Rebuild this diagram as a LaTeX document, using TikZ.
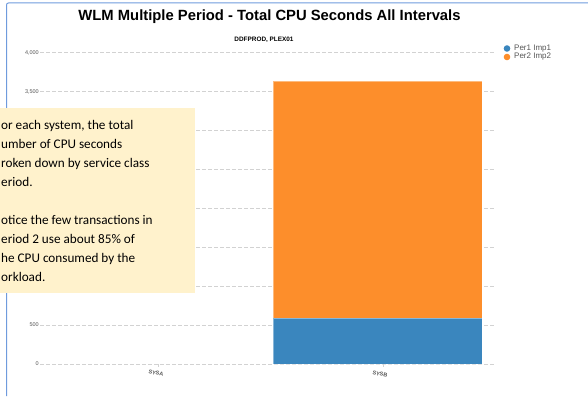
\documentclass[tikz,border=0pt]{standalone}
\usepackage{fontspec}
\setmainfont{Liberation Sans}
\newfontfamily\notefont{Carlito}
\usetikzlibrary{positioning}
\definecolor{perblue}{HTML}{3A86BE}
\definecolor{perorange}{HTML}{FD8E2B}
\definecolor{notefill}{HTML}{FFF2CC}
\definecolor{framecol}{HTML}{6F9BDD}
\definecolor{gridcol}{HTML}{D2D2D2}
\definecolor{labcol}{HTML}{555555}

\begin{document}
\begin{tikzpicture}[x=1pt,y=-1pt,
    gridline/.style={gridcol,dash pattern=on 4pt off 2pt,line width=0.8pt},
    ticklab/.style={anchor=east,inner sep=1pt,text=labcol,font=\fontsize{5.5}{6}\selectfont},
    syslab/.style={rotate=-12,inner sep=0pt,text=labcol,font=\bfseries\fontsize{5.5}{6}\selectfont},
    legendlab/.style={anchor=west,inner sep=0pt,text=labcol,font=\fontsize{8}{8}\selectfont}]
  \useasboundingbox (0,0) rectangle (588,396);
  \clip (0,0) rectangle (588,396);
  \draw[framecol,line width=1pt,rounded corners=2pt] (6.5,396) -- (6.5,3) -- (590,3);

  \node[font=\bfseries\fontsize{14.8}{16}\selectfont] (title) at (269.5,17) {WLM Multiple Period - Total CPU Seconds All Intervals};
  \node[font=\bfseries\fontsize{6.4}{8}\selectfont] (subtitle) at (264,40) {DDFPROD, PLEX01};

  \foreach \v in {0,1,...,8}
    \draw[gridline] (40,{364-\v*39}) -- (495,{364-\v*39});
  \node[ticklab] (l4000) at (40,53) {4,000};
  \node[ticklab] (l3500) at (40,92) {3,500};
  \node[ticklab] (l500) at (40,325) {500};
  \node[ticklab] (l0) at (40,364) {0};

  \fill[perorange] (273,81) rectangle (482,318);
  \fill[perblue] (273,318) rectangle (482,364);
  \draw[white,opacity=0.4,line width=0.5pt] (273,81) rectangle (482,364) (273,318) -- (482,318);

  \draw[gridcol,line width=0.6pt] (158,364) -- (158,367) (383,364) -- (383,367);
  \node[syslab] (sysa) at (156,373) {SYSA};
  \node[syslab] (sysb) at (380,374) {SYSB};

  \fill[perblue] (507,48.5) circle (3.3);
  \fill[perorange] (507,57) circle (3.3);
  \node[legendlab] (per1) at (514,48.5) {Per1 Imp1};
  \node[legendlab] (per2) at (514,57) {Per2 Imp2};

  \fill[notefill] (0,108) rectangle (195,293);
  \node[anchor=north west,inner sep=0pt,align=left,font=\notefont\fontsize{13.2}{19}\selectfont] (note) at (1,120)
    {or each system, the total\\umber of CPU seconds\\roken down by service class\\eriod.\\[19pt]otice the few transactions in\\eriod 2 use about 85\% of\\he CPU consumed by the\\orkload.};
\end{tikzpicture}
\end{document}
